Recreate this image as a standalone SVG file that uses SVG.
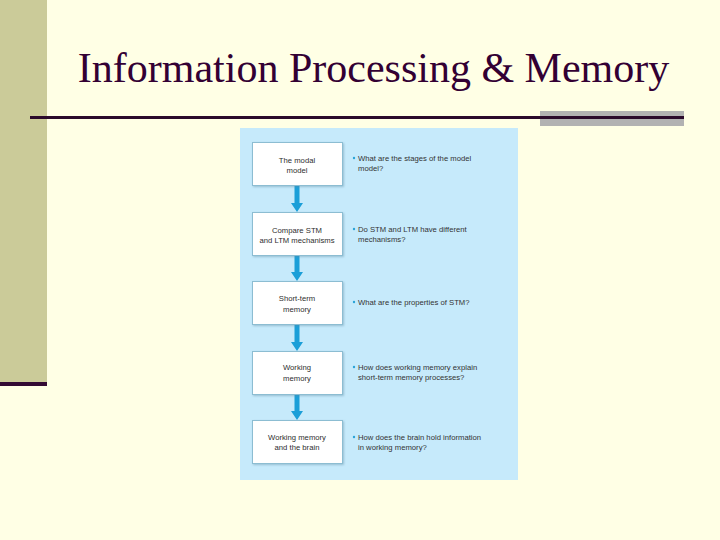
<svg xmlns="http://www.w3.org/2000/svg" width="720" height="540" viewBox="0 0 720 540">
<defs>
<style>
.box{fill:#ffffff;stroke:#8cbdd2;stroke-width:1}
.bt{font-family:"Liberation Sans",Arial,sans-serif;font-size:7.7px;fill:#2e2e2e;text-anchor:middle}
.q{font-family:"Liberation Sans",Arial,sans-serif;font-size:7.7px;fill:#333333}
.dot{fill:#2aa3d8}
.arr{fill:#1b9fd8}
</style>
<filter id="sh" x="-10%" y="-10%" width="130%" height="130%">
<feDropShadow dx="1" dy="1" stdDeviation="0.8" flood-color="#5a8aa0" flood-opacity="0.45"/>
</filter>
</defs>
<rect x="0" y="0" width="720" height="540" fill="#ffffe5"/>
<rect x="0" y="0" width="47" height="382" fill="#cbcb99"/>
<rect x="0" y="382" width="47" height="4" fill="#330a33"/>
<text x="373.5" y="82" font-family="'Liberation Serif','Times New Roman',serif" font-size="42" fill="#330033" text-anchor="middle">Information Processing &amp; Memory</text>
<rect x="540" y="111" width="144" height="15" fill="#b2b2b2"/>
<rect x="30" y="116" width="654" height="3" fill="#2b0a2b"/>
<rect x="240" y="128" width="278" height="352" fill="#c6eafb"/>
<g id="connectors">
<path class="arr" d="M294.5 186 H299.5 V203 H303 L297 212 L291 203 H294.5 Z"/>
<path class="arr" d="M294.5 256 H299.5 V272 H303 L297 281 L291 272 H294.5 Z"/>
<path class="arr" d="M294.5 325 H299.5 V342 H303 L297 351 L291 342 H294.5 Z"/>
<path class="arr" d="M294.5 395 H299.5 V411 H303 L297 420 L291 411 H294.5 Z"/>
</g>
<g id="n1">
<rect class="box" x="252.5" y="142.5" width="90" height="43" filter="url(#sh)"/>
<text class="bt" x="297" y="163">The modal</text>
<text class="bt" x="297" y="173">model</text>
<circle class="dot" cx="354" cy="158" r="1.2"/>
<text class="q" x="358" y="161">What are the stages of the model</text>
<text class="q" x="358" y="171">model?</text>
</g>
<g id="n2">
<rect class="box" x="252.5" y="212.5" width="90" height="43" filter="url(#sh)"/>
<text class="bt" x="297" y="233">Compare STM</text>
<text class="bt" x="297" y="243">and LTM mechanisms</text>
<circle class="dot" cx="354" cy="229" r="1.2"/>
<text class="q" x="358" y="232">Do STM and LTM have different</text>
<text class="q" x="358" y="242">mechanisms?</text>
</g>
<g id="n3">
<rect class="box" x="252.5" y="281.5" width="90" height="43" filter="url(#sh)"/>
<text class="bt" x="297" y="301">Short-term</text>
<text class="bt" x="297" y="312">memory</text>
<circle class="dot" cx="354" cy="302" r="1.2"/>
<text class="q" x="358" y="305">What are the properties of STM?</text>
</g>
<g id="n4">
<rect class="box" x="252.5" y="351.5" width="90" height="43" filter="url(#sh)"/>
<text class="bt" x="297" y="370">Working</text>
<text class="bt" x="297" y="381">memory</text>
<circle class="dot" cx="354" cy="367" r="1.2"/>
<text class="q" x="358" y="370">How does working memory explain</text>
<text class="q" x="358" y="380">short-term memory processes?</text>
</g>
<g id="n5">
<rect class="box" x="252.5" y="420.5" width="90" height="43" filter="url(#sh)"/>
<text class="bt" x="297" y="440">Working memory</text>
<text class="bt" x="297" y="450">and the brain</text>
<circle class="dot" cx="354" cy="437" r="1.2"/>
<text class="q" x="358" y="440">How does the brain hold information</text>
<text class="q" x="358" y="450">in working memory?</text>
</g>
</svg>
